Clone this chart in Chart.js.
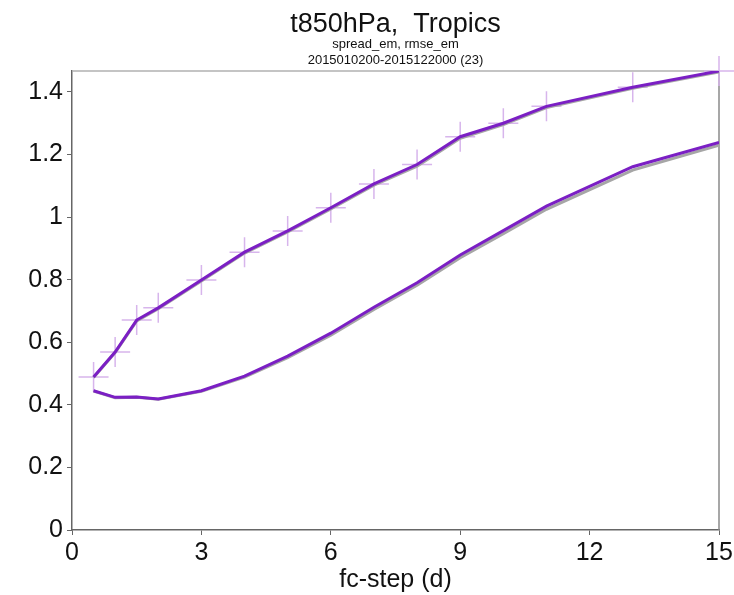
<!DOCTYPE html>
<html>
<head>
<meta charset="utf-8">
<script src="https://cdn.jsdelivr.net/npm/chart.js@4/dist/chart.umd.min.js"></script>
<style>
  html, body { margin: 0; padding: 0; background: #fff; }
  #wrap { width: 734px; height: 595px; }
</style>
</head>
<body>
<div id="wrap"><canvas id="skillChart" width="734" height="595"></canvas></div>
<script>
// forecast steps (days)
const steps = [0.5, 1, 1.5, 2, 3, 4, 5, 6, 7, 8, 9, 10, 11, 13, 15];
// experiment (purple)
const rmseEm = [0.489, 0.569, 0.671, 0.710, 0.799, 0.888, 0.956, 1.030, 1.106, 1.168, 1.257, 1.300, 1.354, 1.415, 1.467];
const spreadEm = [0.445, 0.424, 0.425, 0.419, 0.445, 0.492, 0.556, 0.629, 0.712, 0.790, 0.879, 0.957, 1.035, 1.161, 1.239];
// reference (grey)
const rmseRef = [0.487, 0.567, 0.668, 0.707, 0.796, 0.885, 0.953, 1.026, 1.102, 1.163, 1.252, 1.296, 1.350, 1.412, 1.464];
const spreadRef = [0.444, 0.423, 0.424, 0.418, 0.443, 0.489, 0.551, 0.623, 0.705, 0.782, 0.870, 0.947, 1.025, 1.150, 1.230];

const xTicks = [0, 3, 6, 9, 12, 15];
const yTicks = [0, 0.2, 0.4, 0.6, 0.8, 1, 1.2, 1.4];
const yMax = 1.467;

const titleText = 't850hPa,  Tropics';
const subtitleLines = ['spread_em, rmse_em', '2015010200-2015122000 (23)'];

const FONT = '"Liberation Sans", Arial, Helvetica, sans-serif';
const PURPLE = '#7b1fc4';
const GREY = '#a6a6a6';
const CROSS = '#d7b5ec';

const pts = (ys) => steps.map((x, i) => ({ x: x, y: ys[i] }));

// titles centred over the plot area + top/right frame
const frame = {
    id: 'frame',
    beforeDatasetsDraw(chart) {
        const { ctx, chartArea: a } = chart;
        ctx.save();
        ctx.lineWidth = 1.5;
        ctx.strokeStyle = '#b0b0b0';
        ctx.beginPath();
        ctx.moveTo(a.left, a.top);
        ctx.lineTo(a.right, a.top);
        ctx.stroke();
        ctx.strokeStyle = '#8a8a8a';
        ctx.beginPath();
        ctx.moveTo(a.right, a.top);
        ctx.lineTo(a.right, a.bottom);
        ctx.stroke();
        ctx.restore();
    },
    afterDraw(chart) {
        const { ctx, chartArea: a } = chart;
        const cx = (a.left + a.right) / 2;
        ctx.save();
        ctx.fillStyle = '#111';
        ctx.textAlign = 'center';
        ctx.textBaseline = 'alphabetic';
        ctx.font = '27px ' + FONT;
        ctx.fillText(titleText, cx, 32);
        ctx.font = '13px ' + FONT;
        ctx.fillText(subtitleLines[0], cx, 48);
        ctx.fillText(subtitleLines[1], cx, 64);
        ctx.restore();
    }
};

const ctx = document.getElementById('skillChart').getContext('2d');
const skillChart = new Chart(ctx, {
    type: 'line',
    data: {
        datasets: [
            {
                label: 'rmse_em (ref)',
                data: pts(rmseRef),
                borderColor: GREY,
                borderWidth: 3,
                pointRadius: 0,
                order: 2
            },
            {
                label: 'spread_em (ref)',
                data: pts(spreadRef),
                borderColor: GREY,
                borderWidth: 3,
                pointRadius: 0,
                order: 2
            },
            {
                label: 'rmse_em',
                data: pts(rmseEm),
                borderColor: PURPLE,
                borderWidth: 3,
                pointRadius: 0,
                order: 1
            },
            {
                label: 'spread_em',
                data: pts(spreadEm),
                borderColor: PURPLE,
                borderWidth: 3,
                pointRadius: 0,
                order: 1
            },
            {
                label: 'rmse_em marks',
                data: pts(rmseEm),
                showLine: false,
                pointStyle: 'cross',
                pointRadius: 15,
                pointBorderWidth: 1.5,
                pointBorderColor: CROSS,
                clip: false,
                order: 3
            }
        ]
    },
    options: {
        responsive: false,
        animation: false,
        events: [],
        layout: { autoPadding: false, padding: { top: 71, right: 15, bottom: 0, left: 0 } },
        plugins: {
            legend: { display: false },
            tooltip: { enabled: false },
            title: { display: false }
        },
        scales: {
            x: {
                type: 'linear',
                min: 0,
                max: 15,
                afterBuildTicks: (s) => { s.ticks = xTicks.map(v => ({ value: v })); },
                afterFit: (s) => { s.height = 65; s.paddingLeft = 0; s.paddingRight = 0; },
                border: { color: '#666', width: 1.5 },
                grid: { drawOnChartArea: false, tickLength: 5, color: '#666', lineWidth: 1 },
                ticks: { color: '#111', font: { family: FONT, size: 25 }, padding: 3, maxRotation: 0 },
                title: { display: true, text: 'fc-step (d)', color: '#111', font: { family: FONT, size: 25 }, padding: 0 }
            },
            y: {
                min: 0,
                max: yMax,
                afterBuildTicks: (s) => { s.ticks = yTicks.map(v => ({ value: v })); },
                afterFit: (s) => { s.width = 72; },
                border: { color: '#666', width: 1.5 },
                grid: { drawOnChartArea: false, tickLength: 5, color: '#666', lineWidth: 1 },
                ticks: {
                    color: '#111',
                    font: { family: FONT, size: 25 },
                    padding: 4,
                    callback: (v) => String(+v.toFixed(1))
                }
            }
        }
    },
    plugins: [frame]
});
</script>
</body>
</html>
